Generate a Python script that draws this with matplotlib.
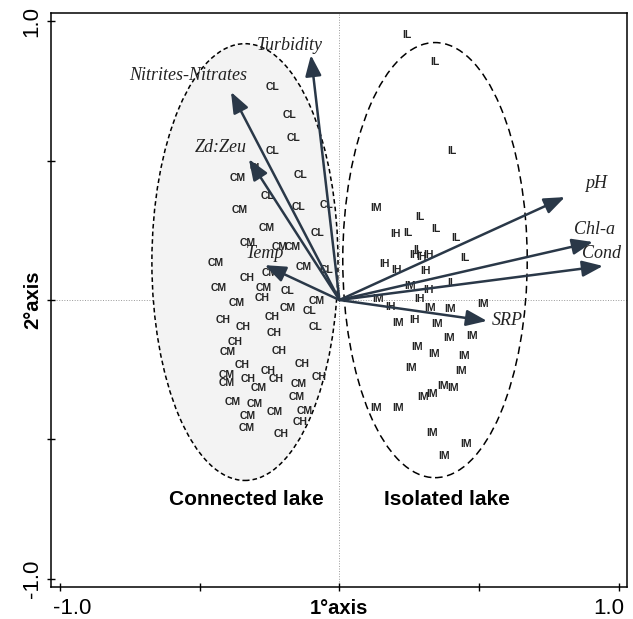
import numpy as np
import matplotlib.pyplot as plt
from matplotlib.patches import Ellipse

# site scores (connected lake: CL, CM, CH ; isolated lake: IL, IM, IH)
con_lab = ['CL', 'CL', 'CL', 'CL', 'CL', 'CM', 'CL', 'CL', 'CM', 'CL', 'CL', 'CM',
           'CL', 'CM', 'CM', 'CM', 'CM', 'CM', 'CM', 'CL', 'CH', 'CM', 'CM', 'CL',
           'CH', 'CM', 'CM', 'CM', 'CL', 'CH', 'CH', 'CH', 'CL', 'CH', 'CH', 'CM',
           'CH', 'CH', 'CH', 'CM', 'CM', 'CH', 'CH', 'CH', 'CM', 'CM', 'CH', 'CM',
           'CM', 'CM', 'CM', 'CM', 'CM', 'CH', 'CM', 'CH']
con_x = [-0.241, -0.177, -0.166, -0.238, -0.295, -0.363, -0.138, -0.259, -0.356, -0.148,
         -0.045, -0.259, -0.077, -0.327, -0.213, -0.166, -0.442, -0.249, -0.127, -0.045,
         -0.331, -0.431, -0.270, -0.184, -0.277, -0.367, -0.081, -0.184, -0.106, -0.417,
         -0.242, -0.345, -0.084, -0.234, -0.374, -0.399, -0.216, -0.349, -0.134, -0.403,
         -0.403, -0.327, -0.256, -0.227, -0.288, -0.145, -0.073, -0.152, -0.381, -0.302,
         -0.231, -0.123, -0.327, -0.141, -0.331, -0.209]
con_y = [0.763, 0.663, 0.581, 0.534, 0.473, 0.437, 0.448, 0.373, 0.323, 0.333,
         0.341, 0.258, 0.240, 0.204, 0.190, 0.190, 0.133, 0.097, 0.118, 0.108,
         0.079, 0.043, 0.043, 0.032, 0.007, -0.011, -0.004, -0.029, -0.039, -0.072,
         -0.061, -0.097, -0.097, -0.118, -0.151, -0.186, -0.183, -0.233, -0.229, -0.269,
         -0.297, -0.283, -0.254, -0.283, -0.315, -0.301, -0.276, -0.348, -0.366, -0.373,
         -0.401, -0.398, -0.416, -0.437, -0.459, -0.480]

iso_lab = ['IL', 'IL', 'IL', 'IM', 'IL', 'IH', 'IL', 'IL', 'IL', 'IH', 'IL', 'IH',
           'IH', 'IL', 'IH', 'IH', 'IH', 'IM', 'IH', 'IL', 'IH', 'IM', 'IH', 'IM',
           'IM', 'IM', 'IM', 'IH', 'IM', 'IM', 'IM', 'IM', 'IM', 'IM', 'IM', 'IM',
           'IM', 'IM', 'IM', 'IM', 'IM', 'IM', 'IM', 'IM', 'IM']
iso_x = [0.242, 0.342, 0.402, 0.131, 0.288, 0.199, 0.245, 0.345, 0.417, 0.267,
         0.281, 0.292, 0.317, 0.449, 0.163, 0.206, 0.309, 0.252, 0.320, 0.402,
         0.288, 0.138, 0.184, 0.324, 0.395, 0.513, 0.209, 0.270, 0.349, 0.392,
         0.474, 0.277, 0.338, 0.445, 0.256, 0.435, 0.370, 0.406, 0.299, 0.331,
         0.131, 0.209, 0.331, 0.453, 0.374]
iso_y = [0.950, 0.853, 0.534, 0.330, 0.297, 0.237, 0.240, 0.254, 0.222, 0.161,
         0.179, 0.154, 0.161, 0.151, 0.129, 0.108, 0.104, 0.050, 0.036, 0.061,
         0.004, 0.004, -0.025, -0.029, -0.032, -0.014, -0.082, -0.072, -0.086, -0.136,
         -0.129, -0.168, -0.194, -0.201, -0.244, -0.254, -0.308, -0.315, -0.348, -0.337,
         -0.387, -0.387, -0.477, -0.516, -0.559]

# environmental variables
var_names = ['Turbidity', 'Nitrites-Nitrates', 'Zd:Zeu', 'Temp', 'pH', 'Chl-a', 'Cond', 'SRP']
var_x = [-0.102, -0.388, -0.324, -0.267, 0.807, 0.907, 0.943, 0.528]
var_y = [0.878, 0.746, 0.505, 0.125, 0.369, 0.208, 0.122, -0.075]
lab_x = [-0.177, -0.542, -0.424, -0.267, 0.918, 0.911, 0.936, 0.599]
lab_y = [0.914, 0.806, 0.545, 0.168, 0.419, 0.254, 0.165, -0.075]

groups = ['Connected lake', 'Isolated lake']
group_x = [-0.333, 0.386]
group_y = [-0.717, -0.717]

ticks = [-1.0, -0.5, 0.0, 0.5, 1.0]
end_labels = ['-1.0', '1.0']

fig = plt.figure(figsize=(6.33, 6.19), dpi=100)
ax = fig.add_axes([51/633, 1-587/619, 576/633, 574/619])
ax.set_xlim(-1.032, 1.029)
ax.set_ylim(-1.029, 1.029)

# ellipses
ax.add_patch(Ellipse((-0.338, 0.136), 0.666, 1.566, facecolor='#f3f3f3',
                     edgecolor='black', lw=1.1, linestyle=(0, (3, 2)), zorder=1))
ax.add_patch(Ellipse((0.342, 0.143), 0.66, 1.56, facecolor='none',
                     edgecolor='black', lw=1.1, linestyle=(0, (5, 3)), zorder=1))

ax.axhline(0, color='#999999', lw=0.7, linestyle=':', zorder=0.5)
ax.axvline(0, color='#999999', lw=0.7, linestyle=':', zorder=0.5)

for lab, x, y in zip(con_lab, con_x, con_y):
    ax.text(x, y, lab, fontsize=7.5, fontweight='bold', family='Liberation Sans',
            color='#222222', ha='center', va='center', zorder=2)
for lab, x, y in zip(iso_lab, iso_x, iso_y):
    ax.text(x, y, lab, fontsize=7.5, fontweight='bold', family='Liberation Sans',
            color='#222222', ha='center', va='center', zorder=2)

for name, x, y, tx, ty in zip(var_names, var_x, var_y, lab_x, lab_y):
    ax.annotate('', xy=(x, y), xytext=(0, 0),
                arrowprops=dict(arrowstyle='-|>,head_length=0.9,head_width=0.35',
                                color='#2a3848', lw=1.8, shrinkA=0, shrinkB=0,
                                mutation_scale=14), zorder=3)
    ax.text(tx, ty, name, fontsize=13, fontstyle='italic', family='Liberation Serif',
            color='#222222', ha='center', va='center', zorder=4)

for g, x, y in zip(groups, group_x, group_y):
    ax.text(x, y, g, fontsize=15, fontweight='bold', family='Liberation Sans',
            ha='center', va='center', zorder=4)

ax.set_xticks(ticks)
ax.set_xticklabels(['', '', '1°axis', '', ''], family='Liberation Sans',
                   fontsize=14.5, fontweight='bold')
ax.set_yticks(ticks)
ax.set_yticklabels(['-1.0', '', '2°axis', '', '1.0'], family='Liberation Sans', fontsize=16,
                   rotation=90, va='center')
ax.get_yticklabels()[2].set_fontweight('bold')
ax.get_yticklabels()[2].set_fontsize(14.5)
ax.tick_params(direction='inout', length=6, width=1, pad=6)
ax.tick_params(axis='y', pad=3)

# end labels on x axis, nudged inward like the original
xt = ax.get_xaxis_transform()
ax.annotate(end_labels[0], xy=(ticks[0], 0), xycoords=xt, xytext=(9, -8),
            textcoords='offset points', ha='center', va='top', fontsize=16,
            family='Liberation Sans', annotation_clip=False)
ax.annotate(end_labels[1], xy=(ticks[-1], 0), xycoords=xt, xytext=(-7, -8),
            textcoords='offset points', ha='center', va='top', fontsize=16,
            family='Liberation Sans', annotation_clip=False)

for s in ax.spines.values():
    s.set_linewidth(1.1)

fig.savefig('out.png', dpi=100)
